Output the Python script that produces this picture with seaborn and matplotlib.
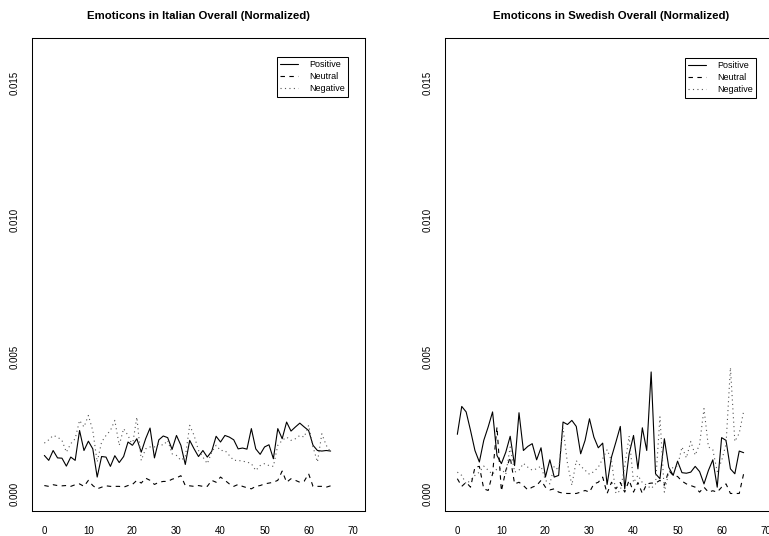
# Emoticons per day, normalized: Italian vs Swedish
import matplotlib
matplotlib.use("Agg")
from matplotlib import pyplot as plt
import seaborn as sns
import pandas as pd

# Data (x = 0..65)
days = list(range(66))

it_positive = [0.00139, 0.00121, 0.00157, 0.00130, 0.00129, 0.00100, 0.00133, 0.00121, 0.00230, 0.00157,
               0.00191, 0.00163, 0.00060, 0.00135, 0.00133, 0.00099, 0.00138, 0.00113, 0.00135, 0.00188,
               0.00176, 0.00200, 0.00151, 0.00200, 0.00239, 0.00130, 0.00196, 0.00210, 0.00204, 0.00161,
               0.00212, 0.00176, 0.00106, 0.00194, 0.00163, 0.00135, 0.00157, 0.00133, 0.00154, 0.00209,
               0.00188, 0.00212, 0.00206, 0.00196, 0.00163, 0.00166, 0.00162, 0.00237, 0.00163, 0.00143,
               0.00170, 0.00178, 0.00127, 0.00237, 0.00200, 0.00261, 0.00228, 0.00243, 0.00257, 0.00243,
               0.00230, 0.00176, 0.00157, 0.00155, 0.00157, 0.00155]
it_neutral = [0.00029, 0.00026, 0.00032, 0.00029, 0.00028, 0.00029, 0.00026, 0.00032, 0.00035, 0.00026,
              0.00048, 0.00029, 0.00017, 0.00023, 0.00028, 0.00026, 0.00026, 0.00026, 0.00023, 0.00029,
              0.00033, 0.00048, 0.00038, 0.00056, 0.00048, 0.00033, 0.00041, 0.00044, 0.00044, 0.00052,
              0.00057, 0.00065, 0.00029, 0.00028, 0.00026, 0.00029, 0.00026, 0.00026, 0.00048, 0.00041,
              0.00060, 0.00048, 0.00035, 0.00026, 0.00033, 0.00026, 0.00021, 0.00017, 0.00026, 0.00029,
              0.00035, 0.00038, 0.00041, 0.00048, 0.00082, 0.00041, 0.00054, 0.00048, 0.00041, 0.00045,
              0.00072, 0.00026, 0.00026, 0.00026, 0.00023, 0.00028]
it_negative = [0.00184, 0.00196, 0.00212, 0.00206, 0.00194, 0.00151, 0.00182, 0.00200, 0.00267, 0.00243,
               0.00285, 0.00230, 0.00115, 0.00188, 0.00212, 0.00230, 0.00267, 0.00176, 0.00237, 0.00212,
               0.00176, 0.00279, 0.00121, 0.00163, 0.00170, 0.00170, 0.00182, 0.00176, 0.00194, 0.00145,
               0.00139, 0.00121, 0.00133, 0.00249, 0.00212, 0.00157, 0.00133, 0.00109, 0.00151, 0.00176,
               0.00157, 0.00157, 0.00139, 0.00121, 0.00121, 0.00118, 0.00115, 0.00109, 0.00084, 0.00102,
               0.00109, 0.00102, 0.00099, 0.00176, 0.00194, 0.00206, 0.00194, 0.00200, 0.00212, 0.00206,
               0.00249, 0.00170, 0.00115, 0.00218, 0.00176, 0.00151]

sv_positive = [0.00216, 0.00318, 0.00298, 0.00230, 0.00157, 0.00115, 0.00194, 0.00243, 0.00298, 0.00139,
               0.00109, 0.00151, 0.00209, 0.00102, 0.00295, 0.00157, 0.00172, 0.00182, 0.00123, 0.00167,
               0.00060, 0.00123, 0.00060, 0.00066, 0.00261, 0.00252, 0.00267, 0.00245, 0.00145, 0.00194,
               0.00273, 0.00206, 0.00167, 0.00184, 0.00033, 0.00133, 0.00188, 0.00245, 0.00017, 0.00145,
               0.00212, 0.00090, 0.00240, 0.00157, 0.00444, 0.00072, 0.00054, 0.00200, 0.00096, 0.00066,
               0.00118, 0.00076, 0.00074, 0.00078, 0.00099, 0.00080, 0.00035, 0.00084, 0.00123, 0.00023,
               0.00204, 0.00194, 0.00090, 0.00072, 0.00155, 0.00149]
sv_neutral = [0.00054, 0.00026, 0.00041, 0.00023, 0.00096, 0.00099, 0.00017, 0.00011, 0.00072, 0.00243,
              0.00009, 0.00084, 0.00133, 0.00035, 0.00041, 0.00029, 0.00013, 0.00023, 0.00029, 0.00048,
              0.00023, 0.00013, 0.00017, 0.00005, 0.00001, 0.00000, 0.00000, 0.00000, 0.00005, 0.00011,
              0.00005, 0.00035, 0.00041, 0.00060, 0.00000, 0.00041, 0.00017, 0.00040, 0.00005, 0.00048,
              0.00005, 0.00040, 0.00000, 0.00035, 0.00038, 0.00038, 0.00048, 0.00030, 0.00084, 0.00066,
              0.00062, 0.00045, 0.00035, 0.00029, 0.00023, 0.00005, 0.00023, 0.00005, 0.00010, 0.00005,
              0.00023, 0.00035, 0.00000, 0.00000, 0.00000, 0.00072]
sv_negative = [0.00078, 0.00066, 0.00035, 0.00048, 0.00066, 0.00078, 0.00100, 0.00085, 0.00070, 0.00090,
               0.00090, 0.00070, 0.00170, 0.00078, 0.00085, 0.00110, 0.00096, 0.00085, 0.00090, 0.00100,
               0.00048, 0.00035, 0.00100, 0.00085, 0.00240, 0.00110, 0.00030, 0.00120, 0.00100, 0.00085,
               0.00070, 0.00080, 0.00096, 0.00127, 0.00160, 0.00120, 0.00000, 0.00010, 0.00100, 0.00210,
               0.00040, 0.00066, 0.00040, 0.00030, 0.00018, 0.00035, 0.00280, 0.00005, 0.00078, 0.00096,
               0.00100, 0.00170, 0.00130, 0.00190, 0.00140, 0.00180, 0.00310, 0.00170, 0.00160, 0.00080,
               0.00120, 0.00180, 0.00460, 0.00190, 0.00220, 0.00300]

series_names = ["Positive", "Neutral", "Negative"]
titles = ["Emoticons in Italian Overall (Normalized)", "Emoticons in Swedish Overall (Normalized)"]
x_ticks = [0, 10, 20, 30, 40, 50, 60, 70]
y_ticks = [0.000, 0.005, 0.010, 0.015]
y_tick_labels = ["0.000", "0.005", "0.010", "0.015"]


def to_long(pos, neu, neg):
    parts = []
    for name, vals in zip(series_names, [pos, neu, neg]):
        parts.append(pd.DataFrame({"day": days, "value": vals, "sentiment": name}))
    return pd.concat(parts, ignore_index=True)


panels = [to_long(it_positive, it_neutral, it_negative),
          to_long(sv_positive, sv_neutral, sv_negative)]

sns.set_theme(style="white")
plt.rcParams["font.family"] = ["Liberation Sans", "DejaVu Sans"]
plt.rcParams["axes.linewidth"] = 0.75
plt.rcParams["text.color"] = "black"

W, H = 769, 536
fig = plt.figure(figsize=(W / 100, H / 100), dpi=100)

# axes boxes in pixels: (left, top, right, bottom)
boxes = [(32, 38, 365, 511), (445, 38, 778, 511)]
legend_anchor = [(348, 57), (756, 58)]

dash_map = {"Positive": "", "Neutral": (4, 4), "Negative": (1, 3)}
colour_map = {"Positive": "black", "Neutral": "black", "Negative": "#555555"}

for i, df in enumerate(panels):
    l, t, r, b = boxes[i]
    ax = fig.add_axes([l / W, 1 - b / H, (r - l) / W, (b - t) / H])
    sns.lineplot(data=df, x="day", y="value", hue="sentiment", style="sentiment",
                 palette=colour_map, dashes=dash_map, linewidth=0.8, ax=ax, legend=True)
    ax.set_xlim(-2.8, 72.8)
    ax.set_ylim(-0.00064, 0.01664)
    ax.set_xticks(x_ticks)
    ax.set_yticks(y_ticks)
    ax.set_yticklabels(y_tick_labels, rotation=90, va="center")
    ax.set_xlabel("")
    ax.set_ylabel("")
    ax.tick_params(axis="both", direction="out", length=4, width=0.75, color="black",
                   labelsize=7, labelcolor="black")
    ax.tick_params(axis="x", pad=7)
    ax.tick_params(axis="y", pad=5)
    for sp in ax.spines.values():
        sp.set_color("black")
        sp.set_linewidth(0.75)
    ax.set_title(titles[i], fontsize=8.2, fontweight="bold", pad=14, color="black")

    handles, labels = ax.get_legend_handles_labels()
    ax_, ay_ = legend_anchor[i]
    leg = ax.legend(handles, labels, loc="upper right",
                    bbox_to_anchor=(ax_ / W, 1 - ay_ / H), bbox_transform=fig.transFigure,
                    fontsize=6.5, frameon=True, fancybox=False, borderpad=0.35,
                    labelspacing=0.35, handlelength=2.0, handletextpad=1.2,
                    borderaxespad=0)
    leg.get_frame().set_edgecolor("black")
    leg.get_frame().set_linewidth(0.75)
    leg.get_frame().set_alpha(1)
    for txt in leg.get_texts():
        txt.set_color("black")

fig.savefig("out.png", dpi=100)
